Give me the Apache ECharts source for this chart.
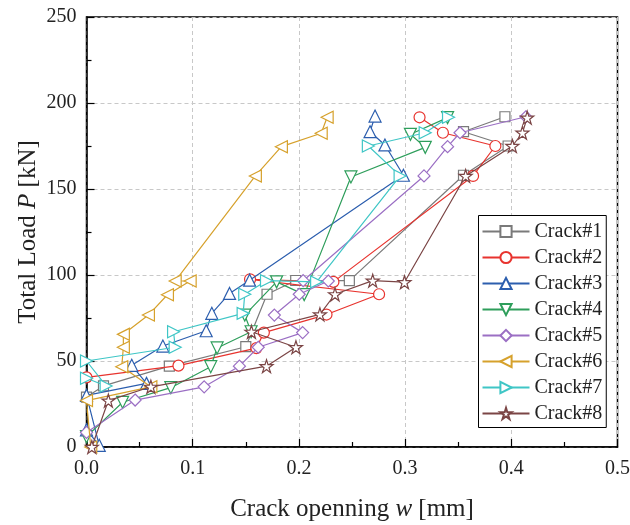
<!DOCTYPE html>
<html>
<head>
<meta charset="utf-8">
<script src="https://cdn.jsdelivr.net/npm/echarts@6/dist/echarts.min.js"></script>
<style>
html,body{margin:0;padding:0;background:#fff;}
#chart{width:630px;height:525px;}
</style>
</head>
<body>
<div id="chart"></div>
<script>
// Data: [crack opening w (mm), total load P (kN)]
const crack1 = [[0,29],[0.016,35.5],[0.078,47],[0.150,58.3],[0.170,88.8],[0.197,96.8],[0.2475,96.7],[0.355,158],[0.397,175],[0.355,183.3],[0.394,192]];
const crack2 = [[0,40.5],[0.0866,47.3],[0.160,57.5],[0.167,66.5],[0.226,77],[0.2755,88.8],[0.154,97.5],[0.2325,96],[0.364,157.6],[0.385,175],[0.3356,182.7],[0.3136,191.7]];
const crack3 = [[0,10],[0.012,1],[0,30],[0.0565,37],[0.0426,47.5],[0.0719,58.7],[0.1127,67.6],[0.118,77.7],[0.1347,89.3],[0.1536,97],[0.2984,158],[0.281,175.6],[0.267,183.3],[0.2717,192.4]];
const crack4 = [[0,6],[0.034,26],[0.0794,34.5],[0.117,46.7],[0.123,57.6],[0.155,67],[0.149,76.7],[0.179,96],[0.205,88.6],[0.249,157],[0.319,174.2],[0.305,181.8],[0.340,191.5]];
const crack5 = [[0,8.5],[0.0458,27.3],[0.1108,35],[0.144,47],[0.1617,58],[0.2035,66.5],[0.1769,76.7],[0.2003,88.8],[0.2277,96.5],[0.204,96.7],[0.3178,157.6],[0.34,174.6],[0.3517,182.7],[0.4137,192]];
const crack6 = [[0.004,0],[0,27],[0.0606,35],[0.0332,46.7],[0.0347,58],[0.0347,65.5],[0.0583,76.7],[0.0762,88.5],[0.0976,96.5],[0.0835,96.5],[0.159,157.6],[0.1835,174.6],[0.221,182.4],[0.2266,191.7]];
const crack7 = [[0,40],[0.0185,35.5],[0,50],[0.0835,58],[0.082,67],[0.1475,77.7],[0.149,88.8],[0.1695,96.7],[0.2167,96],[0.2953,157.6],[0.2654,175],[0.3189,182.7],[0.3409,191.7]];
const crack8 = [[0.005,0],[0.0206,27],[0.0606,35],[0.1695,47],[0.1972,58],[0.1553,67],[0.2198,77.1],[0.234,88.8],[0.2695,96.7],[0.2994,95.8],[0.357,157.6],[0.401,175],[0.4105,182.7],[0.415,191.5]];

const seriesNames = ['Crack#1','Crack#2','Crack#3','Crack#4','Crack#5','Crack#6','Crack#7','Crack#8'];
const seriesData = [crack1, crack2, crack3, crack4, crack5, crack6, crack7, crack8];

const colors = ['#7a7a7a','#e8332e','#2c5eae','#2e9e5b','#9b6fc4','#d6a12c','#3fc6c6','#7b4545'];
const starPath = 'path://M50 0 L61.23 34.55 L97.55 34.55 L68.16 55.9 L79.39 90.45 L50 69.1 L20.61 90.45 L31.84 55.9 L2.45 34.55 L38.77 34.55 Z';
const symbols = ['rect','circle','triangle','triangle','diamond','triangle','triangle',starPath];
const rotates = [0,0,0,180,0,90,-90,0];
const sizes = [10,11,12,12,12,12,12,13];

const FONT = 'Liberation Serif';

const series = seriesNames.map((n,i)=>({
  name: n,
  type: 'line',
  data: seriesData[i],
  symbol: symbols[i],
  symbolRotate: rotates[i],
  symbolSize: sizes[i],
  showAllSymbol: true,
  clip: true,
  lineStyle: {color: colors[i], width: 1.2},
  itemStyle: {color: '#ffffff', borderColor: colors[i], borderWidth: 1.2},
  emphasis: {disabled: true},
  animation: false,
  z: 2 + i
}));

const chart = echarts.init(document.getElementById('chart'), null, {renderer:'canvas'});
chart.setOption({
  backgroundColor: '#ffffff',
  animation: false,
  grid: {left: 86.5, right: 12.5, top: 17, bottom: 78, show: true, borderColor: '#000', borderWidth: 1.5,
         backgroundColor: 'transparent', containLabel: false, outerBoundsMode: 'none'},
  legend: {
    left: 478.5, top: 215.5, orient: 'vertical',
    backgroundColor: '#fff', borderColor: '#000', borderWidth: 1,
    padding: [6,4,4,3], itemWidth: 47, itemHeight: 14, itemGap: 6, itemTextGap: 5,
    textStyle: {fontFamily: FONT, fontSize: 20, color: '#222', lineHeight: 20},
    data: seriesNames
  },
  xAxis: {
    type: 'value', min: 0, max: 0.5, interval: 0.1,
    name: 'Crack openning {i|w} [mm]', nameLocation: 'middle', nameGap: 50, nameMoveOverlap: false,
    nameTextStyle: {fontFamily: FONT, fontSize: 25, color: '#222', rich: {i: {fontFamily: FONT, fontSize: 25, fontStyle: 'italic', color: '#222'}}},
    axisLine: {show: true, onZero: false, lineStyle: {color: '#000', width: 1.5}},
    axisTick: {show: true, inside: true, length: 8, lineStyle: {color: '#000', width: 1.2}},
    minorTick: {show: true, splitNumber: 2, length: 5, lineStyle: {color: '#000', width: 1.2}},
    axisLabel: {fontFamily: FONT, fontSize: 20, color: '#222', margin: 12, formatter: v => v.toFixed(1)},
    splitLine: {show: true, lineStyle: {color: '#c8c8c8', type: [4,3], width: 1}}
  },
  yAxis: {
    type: 'value', min: 0, max: 250, interval: 50,
    name: 'Total Load {i|P} [kN]', nameLocation: 'middle', nameGap: 46, nameMoveOverlap: false,
    nameTextStyle: {fontFamily: FONT, fontSize: 25, color: '#222', rich: {i: {fontFamily: FONT, fontSize: 25, fontStyle: 'italic', color: '#222'}}},
    axisLine: {show: true, onZero: false, lineStyle: {color: '#000', width: 1.5}},
    axisTick: {show: true, inside: true, length: 8, lineStyle: {color: '#000', width: 1.2}},
    minorTick: {show: true, splitNumber: 2, length: 5, lineStyle: {color: '#000', width: 1.2}},
    axisLabel: {fontFamily: FONT, fontSize: 20, color: '#222', margin: 10},
    splitLine: {show: true, lineStyle: {color: '#c8c8c8', type: [4,3], width: 1}}
  },
  series: series
});
</script>
</body>
</html>
